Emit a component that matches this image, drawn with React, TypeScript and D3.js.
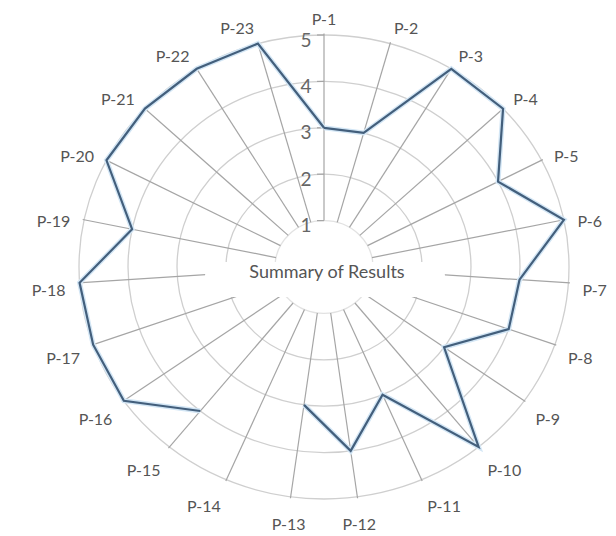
import React from "react";
import * as d3 from "d3";

const categories = [
  "P-1", "P-2", "P-3", "P-4", "P-5", "P-6", "P-7", "P-8", "P-9", "P-10", "P-11", "P-12",
  "P-13", "P-14", "P-15", "P-16", "P-17", "P-18", "P-19", "P-20", "P-21", "P-22", "P-23",
];
const values: (number | null)[] = [
  3, 3, 5, 5, 4, 5, 4, 4, 3, 5, 3, 4, 3, null, 4, 5, 5, 5, 4, 5, 5, 5, 5,
];
const ringTicks = [1, 2, 3, 4, 5];
const centerTitle = "Summary of Results";

const W = 616;
const H = 536;
const CX = 324;
const CY = 267;
const RX = 245;
const RY = 232;
const FONT = "Lato, 'Open Sans', sans-serif";

export default function App() {
  const n = categories.length;
  const angle = d3.scaleLinear().domain([0, n]).range([0, 2 * Math.PI]);
  const rx = d3.scaleLinear().domain([0, 5]).range([0, RX]);
  const ry = d3.scaleLinear().domain([0, 5]).range([0, RY]);
  const px = (i: number, v: number) => CX + Math.sin(angle(i)) * rx(v);
  const py = (i: number, v: number) => CY - Math.cos(angle(i)) * ry(v);

  const order = d3.range(n + 1).map((k) => k % n);
  const line = d3
    .line<number>()
    .defined((i) => values[i] != null)
    .x((i) => px(i, values[i] as number))
    .y((i) => py(i, values[i] as number));
  const pathD = line(order) || "";

  const maskLeft = CX - 119;
  const maskRight = CX + 121;
  const maskTop = CY - 5;
  const maskBottom = CY + 30;

  return (
    <svg
      width={W}
      height={H}
      style={{ position: "absolute", left: 0, top: 0, background: "#fff" }}
    >
      <rect x={0} y={0} width={W} height={H} fill="#fff" />
      {ringTicks.map((t) => (
        <ellipse
          key={"ring" + t}
          cx={CX}
          cy={CY}
          rx={rx(t)}
          ry={ry(t)}
          fill="none"
          stroke={t === 1 ? "#e2e2e2" : "#cfcfcf"}
          strokeWidth={1.3}
        />
      ))}
      {categories.map((c, i) => (
        <line
          key={"sp" + c}
          x1={px(i, 1)}
          y1={py(i, 1)}
          x2={px(i, 5.03)}
          y2={py(i, 5.03)}
          stroke="#a5a5a5"
          strokeWidth={1.2}
        />
      ))}
      {ringTicks.map((t) => (
        <line
          key={"tm" + t}
          x1={CX - 7}
          x2={CX}
          y1={py(0, t)}
          y2={py(0, t)}
          stroke="#a5a5a5"
          strokeWidth={1.2}
        />
      ))}
      <rect
        x={maskLeft}
        y={maskTop}
        width={maskRight - maskLeft}
        height={maskBottom - maskTop}
        rx={14}
        fill="#fff"
      />
      <path d={pathD} fill="none" stroke="#d3e6f5" strokeWidth={5} strokeLinejoin="miter" />
      <path d={pathD} fill="none" stroke="#435f7c" strokeWidth={2.2} strokeLinejoin="miter" />
      {ringTicks.map((t) => (
        <text
          key={"tl" + t}
          x={CX - 18}
          y={py(0, t) + 5}
          dy="0.35em"
          textAnchor="middle"
          fontFamily={FONT}
          fontSize={19}
          fill="#666"
        >
          {t}
        </text>
      ))}
      {categories.map((c, i) => {
        const s = Math.sin(angle(i));
        const co = Math.cos(angle(i));
        const anchor = s > 0.2 ? "start" : s < -0.2 ? "end" : "middle";
        return (
          <text
            key={"lb" + c}
            x={CX + s * (RX + 14)}
            y={CY - co * (RY + 22) + 6}
            dy="0.35em"
            textAnchor={anchor}
            fontFamily={FONT}
            fontSize={16}
            fill="#555"
          >
            {c}
          </text>
        );
      })}
      <text
        x={CX + 3}
        y={CY + 11}
        textAnchor="middle"
        fontFamily={FONT}
        fontSize={18}
        fill="#555"
      >
        {centerTitle}
      </text>
    </svg>
  );
}
